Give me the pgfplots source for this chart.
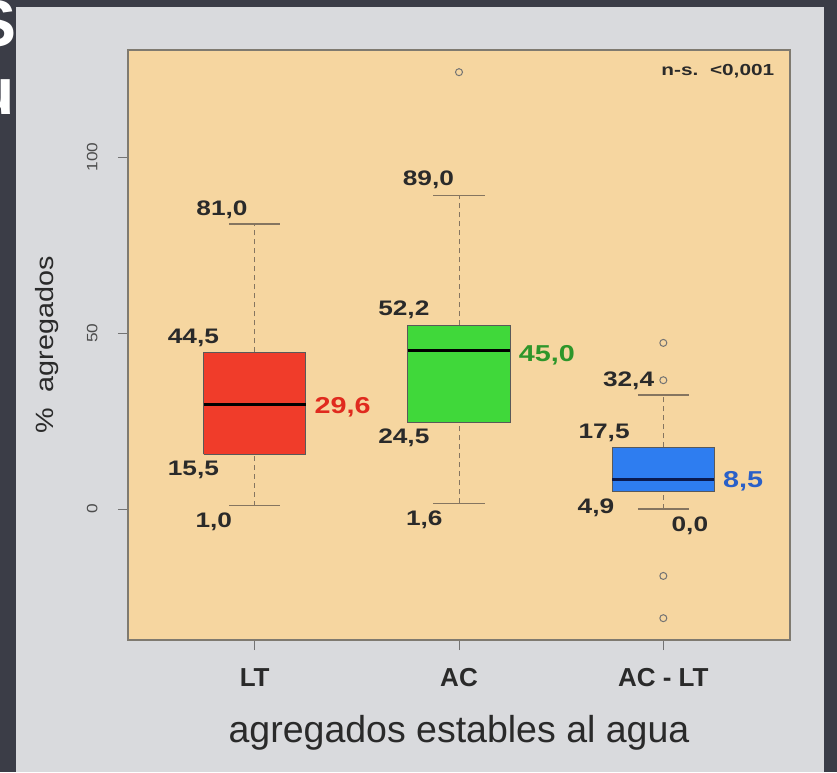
\documentclass[border=0pt]{standalone}
\usepackage{pgfplots}
\pgfplotsset{compat=1.18}
\usepackage{fontspec}
\setmainfont{Liberation Sans}
\newfontfamily\wide[FakeStretch=1.15]{Liberation Sans}
\newfontfamily\wlab[FakeStretch=1.25]{Liberation Sans}
\newfontfamily\wider[FakeStretch=1.3]{Liberation Sans}
\definecolor{darkbg}{HTML}{3B3D47}
\definecolor{panel}{HTML}{D9DADD}
\definecolor{plotbg}{HTML}{F6D6A0}
\definecolor{boxred}{HTML}{F03C2A}
\definecolor{boxgreen}{HTML}{40D83A}
\definecolor{boxblue}{HTML}{2E7DF0}
\definecolor{labred}{HTML}{E02A1E}
\definecolor{labgreen}{HTML}{2E962A}
\definecolor{labblue}{HTML}{2A60C8}
\definecolor{whisk}{HTML}{857560}
\definecolor{txt}{HTML}{2A2A2A}
\definecolor{framec}{HTML}{7F7A70}
\definecolor{navy}{HTML}{0A1A50}
\tikzset{
  lab/.style={font=\wlab\fontsize{21}{21}\bfseries\selectfont, text=txt},
  mlab/.style={font=\wlab\fontsize{23}{23}\bfseries\selectfont},
}

\begin{document}
\begin{tikzpicture}
\useasboundingbox (0pt,0pt) rectangle (837pt,772pt);
\fill[darkbg] (0pt,0pt) rectangle (837pt,772pt);
\node[white, font=\fontsize{66}{66}\bfseries\selectfont, anchor=east, inner sep=0pt] at (17pt,748pt) {S};
\node[white, font=\fontsize{66}{66}\bfseries\selectfont, anchor=east, inner sep=0pt] at (15pt,675pt) {u};
\fill[panel] (16pt,0pt) rectangle (824pt,765pt);

\begin{axis}[
  at={(128pt,132pt)}, anchor=south west,
  width=662pt, height=590pt, scale only axis,
  xmin=0.38, xmax=3.62, ymin=-37.2, ymax=130.4,
  axis background/.style={fill=plotbg},
  axis line style={framec, line width=1.2pt},
  xtick={1,2,3}, xticklabels={LT,AC,AC - LT},
  ytick={0,50,100},
  tick pos=left, tick align=outside, major tick length=10pt,
  minor tick num=0,
  tick style={black!55, line width=1pt},
  /pgf/number format/assume math mode=true,
  yticklabel style={font=\wide\fontsize{15}{15}\selectfont, text=black!70, xshift=-17pt, rotate=90, anchor=south},
  xticklabel style={font=\fontsize{26}{26}\bfseries\selectfont, text=txt, anchor=base, yshift=-36pt},
  xlabel={agregados estables al agua},
  ylabel={\%\ \ agregados},
  every axis x label/.style={at={(rel axis cs:0.5,0)}, anchor=center, yshift=-93pt, font=\fontsize{37.5}{37.5}\selectfont, text=txt},
  every axis y label/.style={at={(rel axis cs:0,0.5)}, xshift=-81pt, rotate=90, anchor=center, font=\wide\fontsize{25}{25}\selectfont, text=txt},
  clip=false,
]
% whisker stems (dashed)
\addplot[whisk, line width=1pt, dash pattern=on 5pt off 4pt, forget plot] coordinates {(1,44.5) (1,81.0)};
\addplot[whisk, line width=1pt, dash pattern=on 5pt off 4pt, forget plot] coordinates {(1,1.0) (1,15.5)};
\addplot[whisk, line width=1pt, dash pattern=on 5pt off 4pt, forget plot] coordinates {(2,52.2) (2,89.0)};
\addplot[whisk, line width=1pt, dash pattern=on 5pt off 4pt, forget plot] coordinates {(2,1.6) (2,24.5)};
\addplot[whisk, line width=1pt, dash pattern=on 5pt off 4pt, forget plot] coordinates {(3,17.5) (3,32.4)};
\addplot[whisk, line width=1pt, dash pattern=on 5pt off 4pt, forget plot] coordinates {(3,0.0) (3,4.9)};
% whisker caps
\addplot[whisk, line width=1.2pt] coordinates {(0.875,81.0) (1.125,81.0)};
\addplot[whisk, line width=1.2pt] coordinates {(0.875,1.0) (1.125,1.0)};
\addplot[whisk, line width=1.2pt] coordinates {(1.875,89.0) (2.125,89.0)};
\addplot[whisk, line width=1.2pt] coordinates {(1.875,1.6) (2.125,1.6)};
\addplot[whisk, line width=1.2pt] coordinates {(2.875,32.4) (3.125,32.4)};
\addplot[whisk, line width=1.2pt] coordinates {(2.875,0.0) (3.125,0.0)};
% boxes (Q1 to Q3)
\addplot[fill=boxred, draw=black!65, line width=1pt] coordinates {(0.75,15.5) (1.25,15.5) (1.25,44.5) (0.75,44.5) (0.75,15.5)};
\addplot[fill=boxgreen, draw=black!65, line width=1pt] coordinates {(1.75,24.5) (2.25,24.5) (2.25,52.2) (1.75,52.2) (1.75,24.5)};
\addplot[fill=boxblue, draw=black!65, line width=1pt] coordinates {(2.75,4.9) (3.25,4.9) (3.25,17.5) (2.75,17.5) (2.75,4.9)};
% medians
\addplot[black, line width=3pt] coordinates {(0.75,29.6) (1.25,29.6)};
\addplot[black, line width=3pt] coordinates {(1.75,45.0) (2.25,45.0)};
\addplot[navy, line width=3pt] coordinates {(2.75,8.5) (3.25,8.5)};
% outliers
\addplot[only marks, mark=o, mark size=3.5pt, mark options={draw=black!55, line width=1pt}]
  coordinates {(2,124.1) (3,36.6) (3,47.2) (3,-19.0) (3,-31.0)};

\node[lab] at (axis cs:0.84,84.9) {81,0};
\node[lab] at (axis cs:0.70,48.6) {44,5};
\node[lab] at (axis cs:0.70,11.1) {15,5};
\node[lab] at (axis cs:0.80,-3.7) {1,0};
\node[mlab, text=labred] at (axis cs:1.43,29.0) {29,6};
\node[lab] at (axis cs:1.85,93.5) {89,0};
\node[lab] at (axis cs:1.73,56.5) {52,2};
\node[lab] at (axis cs:1.73,20.2) {24,5};
\node[lab] at (axis cs:1.83,-3.1) {1,6};
\node[mlab, text=labgreen] at (axis cs:2.43,43.8) {45,0};
\node[lab] at (axis cs:2.83,36.4) {32,4};
\node[lab] at (axis cs:2.71,21.6) {17,5};
\node[lab] at (axis cs:2.67,0.3) {4,9};
\node[lab] at (axis cs:3.13,-4.8) {0,0};
\node[mlab, text=labblue] at (axis cs:3.39,8.0) {8,5};
\node[font=\wider\fontsize{16}{16}\bfseries\selectfont, text=txt, anchor=east] at (axis cs:3.56,124.5) {n-s.\ \ <0,001};
\end{axis}
\end{tikzpicture}
\end{document}
